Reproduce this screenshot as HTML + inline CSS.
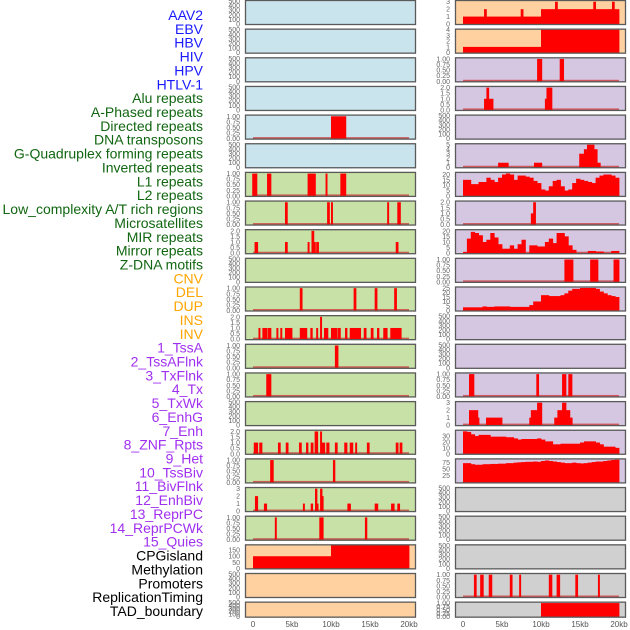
<!DOCTYPE html>
<html><head><meta charset="utf-8"><style>
html,body{margin:0;padding:0;background:#fff}
svg{display:block}
text{font-family:"Liberation Sans",sans-serif}
</style></head><body>
<svg id="chart" width="630" height="630" viewBox="0 0 630 630" xmlns="http://www.w3.org/2000/svg"></svg>
<script>
const labelNames = ["AAV2","EBV","HBV","HIV","HPV","HTLV-1","Alu repeats","A-Phased repeats","Directed repeats","DNA transposons","G-Quadruplex forming repeats","Inverted repeats","L1 repeats","L2 repeats","Low_complexity A/T rich regions","Microsatellites","MIR repeats","Mirror repeats","Z-DNA motifs","CNV","DEL","DUP","INS","INV","1_TssA","2_TssAFlnk","3_TxFlnk","4_Tx","5_TxWk","6_EnhG","7_Enh","8_ZNF_Rpts","9_Het","10_TssBiv","11_BivFlnk","12_EnhBiv","13_ReprPC","14_ReprPCWk","15_Quies","CPGisland","Methylation","Promoters","ReplicationTiming","TAD_boundary"];
const labelColors = ["#1a1aff","#1a1aff","#1a1aff","#1a1aff","#1a1aff","#1a1aff","#116611","#116611","#116611","#116611","#116611","#116611","#116611","#116611","#116611","#116611","#116611","#116611","#116611","#ffa500","#ffa500","#ffa500","#ffa500","#ffa500","#a030f0","#a030f0","#a030f0","#a030f0","#a030f0","#a030f0","#a030f0","#a030f0","#a030f0","#a030f0","#a030f0","#a030f0","#a030f0","#a030f0","#a030f0","#000","#000","#000","#000","#000"];
const xTickValues = [0,5,10,15,20];
const xTickLabels = ["0","5kb","10kb","15kb","20kb"];

const hpvBars = [[10,11.9,1]];
const aluBars = [[-0.1,0.5,1],[1.8,2.3,1],[7.0,7.5,1],[7.5,8.0,1],[9.3,9.5,1],[11.2,11.9,1]];
const aPhasedBars = [[4.1,4.4,1],[9.5,9.8,1],[10.0,10.2,1],[17.2,17.4,1],[18.5,18.9,1]];
const directedBars = [[0.2,0.6,1],[4.1,4.4,1],[7.0,7.2,1],[7.5,7.8,2],[7.8,8.0,1],[8.1,8.4,1],[18.3,18.6,1]];
const gquadBars = [[6.0,6.3,1],[12.9,13.2,1],[15.6,15.9,1],[18.1,18.4,1]];
const invertedBars = [[0.7,0.9,1],[1.2,1.8,1],[1.9,2.3,1],[3.0,3.2,1],[3.5,3.7,1],[4.1,5.0,1],[6.0,6.9,1],[7.35,7.6,1],[8.1,8.3,1],[8.6,8.8,2],[9.1,9.6,1],[10.0,10.8,1],[10.9,11.2,1],[11.8,12.05,1],[12.4,13.8,1],[14.2,14.5,1],[15.1,15.4,1],[15.9,16.15,1],[16.7,17.2,1],[17.6,19.0,1]];
const l1Bars = [[10.5,10.9,1]];
const l2Bars = [[1.7,2.3,1]];
const microBars = [[0.1,0.6,1],[0.8,1.15,1],[3.2,3.5,1],[4.2,4.5,1],[5.9,6.2,1],[6.8,7.05,1],[7.4,7.7,1],[7.9,8.3,2],[8.6,8.8,2],[8.8,9.2,1],[9.4,9.75,1],[10.5,10.8,1],[11.7,12.05,1],[12.4,12.8,1],[13.1,13.3,1],[14.6,14.9,1],[18.3,18.6,1],[18.8,19.1,1]];
const mirBars = [[2.2,2.6,1],[10.25,10.5,1]];
const mirrorBars = [[0.25,0.6,2],[1.4,1.75,1],[6.4,6.6,1],[7.4,7.65,1],[7.95,8.2,3],[8.2,8.35,1],[8.6,8.85,3],[8.85,9.0,2],[12.1,12.5,1],[15.6,16.0,1],[17.7,18.1,1],[18.5,18.8,1]];
const zdnaBars = [[2.8,3.0,1],[8.5,9.0,1],[14.35,14.6,1]];
const cnvBars = [[0,10,100],[10,20,190]];
const insBars = [[0,10,1],[10,20,2],[2.7,3.0,2],[7.4,7.7,2],[11.8,12.1,3],[16.7,17.0,3],[19.1,19.4,3]];
const invBars = [[0,10,1],[10,20,4]];
const tssFlnkBars = [[9.5,10.1,1],[12.4,12.9,1]];
const txFlnkBars = [[2.7,3.0,1],[3.0,3.3,2],[3.3,3.85,1],[10.5,10.7,1],[10.7,11.4,2]];
const txWkBars = [[4.5,5.8,1],[9.1,10.1,1],[14.9,15.5,3],[15.5,15.9,4],[15.9,16.8,5],[16.8,17.2,4],[17.2,17.6,1]];
const znfBars = [[8.7,9.0,1],[9.0,9.3,2]];
const hetBars = [[13.0,14.1,1],[16.3,17.3,1],[19.3,20.0,1]];
const reprPCBars = [[0.77,1.4,1],[9.4,9.7,1],[12.7,13.2,1],[13.5,13.97,1]];
const reprPCWkBars = [[0.77,1.9,2],[1.9,2.05,1],[2.95,5.0,1],[8.5,8.7,1],[8.7,9.5,2],[9.5,10.1,3],[11.7,12.1,1],[12.1,12.7,2],[12.7,13.2,3],[13.2,13.7,2],[13.7,14.0,1]];
const promoterBars = [[1.4,1.7,1],[2.2,2.6,1],[3.3,3.7,1],[6.0,6.3,1],[7.2,7.4,1],[11.0,11.4,1],[12.0,12.4,1],[14.4,14.7,1],[17.3,17.5,1]];
const tadBars = [[10,20,1]];

const tssAFlnkProfile = [15,15,11,11,13,13,17,15,13,17,20,21,20,15,19,19,18,17,14,12,6,5,9,14,15,9,5,6,12,16,15,14,13,12,17,19,20,20,19,17];
const enhGProfile = [1,13,19,18,16,10,12,18,14,8,4,4,7,4,8,12,0,7,7,6,6,10,13,9,18,18,15,7,3,0,0,0,2,2,1.5,1.5,0,0,2,2];
const enhProfile = [3.5,3.5,3.5,3.5,3.5,4.5,4,4,4.5,4.5,4.5,4.5,4,4,4,4,4,6,10,10,17,17,16,16,16,17,19,22,24,24,25,25,25,25,24,21,19,17,16,15];
const bivFlnkProfile = [38,37,33,30,32,32,32,29,29,29,29,28,28,26,24,25,25,25,25,26,24,21,21,16,16,17,17,17,17,17,19,21,21,21,19,16,12,12,12,10];
const enhBivProfile = [72,72,68,66,66,68,68,69,69,70,70,72,72,74,75,76,77,77,78,77,80,82,80,78,76,74,72,72,74,72,71,72,74,76,78,78,80,82,84,85];

const BG = {blue:"#c9e4ec",green:"#c8e1a6",peach:"#ffd1a1",purple:"#d5c6e1",gray:"#d0d0d0"};
const T01 = ["0.00","0.25","0.50","0.75","1.00"];
const T02 = ["0.0","0.5","1.0","1.5","2.0"];
const TE = ["0","100","200","300","400","500"];
function prof(p){return p.map((v,i)=>[i*0.5,i*0.5+0.5,v]);}
const leftPanels = [
 {bg:"blue",ymax:500,ticks:[0,100,200,300,400,500],tl:TE,bars:null},
 {bg:"blue",ymax:500,ticks:[0,100,200,300,400,500],tl:TE,bars:null},
 {bg:"blue",ymax:500,ticks:[0,100,200,300,400,500],tl:TE,bars:null},
 {bg:"blue",ymax:500,ticks:[0,100,200,300,400,500],tl:TE,bars:null},
 {bg:"blue",ymax:1.03,ticks:[0,.25,.5,.75,1],tl:T01,bars:hpvBars},
 {bg:"blue",ymax:500,ticks:[0,100,200,300,400,500],tl:TE,bars:null},
 {bg:"green",ymax:1.03,ticks:[0,.25,.5,.75,1],tl:T01,bars:aluBars},
 {bg:"green",ymax:1.03,ticks:[0,.25,.5,.75,1],tl:T01,bars:aPhasedBars},
 {bg:"green",ymax:2.06,ticks:[0,.5,1,1.5,2],tl:T02,bars:directedBars},
 {bg:"green",ymax:500,ticks:[0,100,200,300,400,500],tl:TE,bars:null},
 {bg:"green",ymax:1.03,ticks:[0,.25,.5,.75,1],tl:T01,bars:gquadBars},
 {bg:"green",ymax:2.06,ticks:[0,.5,1,1.5,2],tl:T02,bars:invertedBars},
 {bg:"green",ymax:1.03,ticks:[0,.25,.5,.75,1],tl:T01,bars:l1Bars},
 {bg:"green",ymax:1.03,ticks:[0,.25,.5,.75,1],tl:T01,bars:l2Bars},
 {bg:"green",ymax:500,ticks:[0,100,200,300,400,500],tl:TE,bars:null},
 {bg:"green",ymax:2.06,ticks:[0,.5,1,1.5,2],tl:T02,bars:microBars},
 {bg:"green",ymax:1.03,ticks:[0,.25,.5,.75,1],tl:T01,bars:mirBars},
 {bg:"green",ymax:3.08,ticks:[0,1,2,3],tl:["0","1","2","3"],bars:mirrorBars},
 {bg:"green",ymax:1.03,ticks:[0,.25,.5,.75,1],tl:T01,bars:zdnaBars},
 {bg:"peach",ymax:190,ticks:[0,50,100,150],tl:["0","50","100","150"],bars:cnvBars,noBase:true},
 {bg:"peach",ymax:500,ticks:[0,100,200,300,400,500],tl:TE,bars:null},
 {bg:"peach",ymax:500,ticks:[0,100,200,300,400,500],tl:TE,bars:null}
];
const rightPanels = [
 {bg:"peach",ymax:3.1,ticks:[0,1,2,3],tl:["0","1","2","3"],bars:insBars,noBase:true},
 {bg:"peach",ymax:4.0,ticks:[0,1,2,3,4],tl:["0","1","2","3","4"],bars:invBars,noBase:true},
 {bg:"purple",ymax:1.03,ticks:[0,.25,.5,.75,1],tl:T01,bars:tssFlnkBars},
 {bg:"purple",ymax:2.06,ticks:[0,.5,1,1.5,2],tl:T02,bars:txFlnkBars},
 {bg:"purple",ymax:500,ticks:[0,100,200,300,400,500],tl:TE,bars:null},
 {bg:"purple",ymax:5.1,ticks:[0,1,2,3,4,5],tl:["0","1","2","3","4","5"],bars:txWkBars},
 {bg:"purple",ymax:21.5,ticks:[0,5,10,15,20],tl:["0","5","10","15","20"],bars:prof(tssAFlnkProfile),noBase:true},
 {bg:"purple",ymax:2.06,ticks:[0,.5,1,1.5,2],tl:T02,bars:znfBars},
 {bg:"purple",ymax:20.5,ticks:[0,5,10,15,20],tl:["0","5","10","15","20"],bars:prof(enhGProfile)},
 {bg:"purple",ymax:1.03,ticks:[0,.25,.5,.75,1],tl:T01,bars:hetBars},
 {bg:"purple",ymax:25.5,ticks:[0,5,10,15,20,25],tl:["0","5","10","15","20","25"],bars:prof(enhProfile),noBase:true},
 {bg:"purple",ymax:500,ticks:[0,100,200,300,400,500],tl:TE,bars:null},
 {bg:"purple",ymax:500,ticks:[0,100,200,300,400,500],tl:TE,bars:null},
 {bg:"purple",ymax:1.03,ticks:[0,.25,.5,.75,1],tl:T01,bars:reprPCBars},
 {bg:"purple",ymax:3.08,ticks:[0,1,2,3],tl:["0","1","2","3"],bars:reprPCWkBars},
 {bg:"purple",ymax:39,ticks:[0,10,20,30],tl:["0","10","20","30"],bars:prof(bivFlnkProfile),noBase:true},
 {bg:"purple",ymax:86,ticks:[25,50,75],tl:["25","50","75"],bars:prof(enhBivProfile),noBase:true},
 {bg:"gray",ymax:500,ticks:[0,100,200,300,400,500],tl:TE,bars:null},
 {bg:"gray",ymax:500,ticks:[0,100,200,300,400,500],tl:TE,bars:null},
 {bg:"gray",ymax:500,ticks:[0,100,200,300,400,500],tl:TE,bars:null},
 {bg:"gray",ymax:1.03,ticks:[0,.25,.5,.75,1],tl:T01,bars:promoterBars},
 {bg:"gray",ymax:1.03,ticks:[0,.25,.5,.75,1],tl:T01,bars:tadBars,noBase:true}
];

const NS = "http://www.w3.org/2000/svg";
const svg = document.getElementById("chart");
function mk(tag, attrs, parent){const e=document.createElementNS(NS,tag);for(const k in attrs)e.setAttribute(k,attrs[k]);(parent||svg).appendChild(e);return e;}
const PX = [245,455], PW = 171, X0 = [253,463], KB = 7.8;
function xScale(col,kb){return X0[col]+Math.max(-0.1,Math.min(20,kb))*KB;}
function rowTop(i){return i*28.65;}
function rowH(i){return i===21?16:25;}
function yScale(v,p,top,h){return top+h-1-(v/p.ymax)*(h-2);}

labelNames.forEach((name,i)=>{
  const t = mk("text",{x:203,y:(20+i*13.86).toFixed(1),"text-anchor":"end","font-size":"14",fill:labelColors[i]});
  
  
  t.textContent = name;
});

[leftPanels,rightPanels].forEach((panels,col)=>{
  panels.forEach((p,i)=>{
    const top=rowTop(i), h=rowH(i);
    const g = mk("g",{});
    
    
    const bg = mk("rect",{x:PX[col],y:top,width:PW,height:h,fill:BG[p.bg]},g);
    
    
    if(p.bars){
      if(!p.noBase){
        const bl = mk("rect",{x:xScale(col,0),y:top+h-2.5,width:20*KB,height:2,fill:"#cc3333","fill-opacity":"0.75"},g);
        
        
      }
      p.bars.forEach(b=>{
        const x1=xScale(col,b[0]), x2=xScale(col,b[1]);
        const y=yScale(Math.min(b[2],p.ymax),p,top,h), y0=yScale(0,p,top,h);
        const r = mk("rect",{x:x1.toFixed(2),y:y.toFixed(2),width:Math.max(1.5,x2-x1+0.4).toFixed(2),height:Math.max(0,y0-y+0.5).toFixed(2),fill:"#ff0000"},g);
        
        
      });
    }
    const fr = mk("rect",{x:PX[col]+0.5,y:top+0.5,width:PW-1,height:h-1,fill:"none",stroke:"#5a5a5a","stroke-width":"1.3"},g);
    
    
    p.ticks.forEach((tv,k)=>{
      const y = yScale(tv,p,top,h);
      const t = mk("text",{x:PX[col]-5,y:(y+2.5).toFixed(1),"text-anchor":"end","font-size":"7",fill:"#666"},g);
      
      
      t.textContent = p.tl[k];
    });
  });
  xTickValues.forEach((v,k)=>{
    const t = mk("text",{x:xScale(col,v),y:627,"text-anchor":"middle","font-size":"8",fill:"#555"});
    
    
    t.textContent = xTickLabels[k];
  });
});
</script>
</body></html>
